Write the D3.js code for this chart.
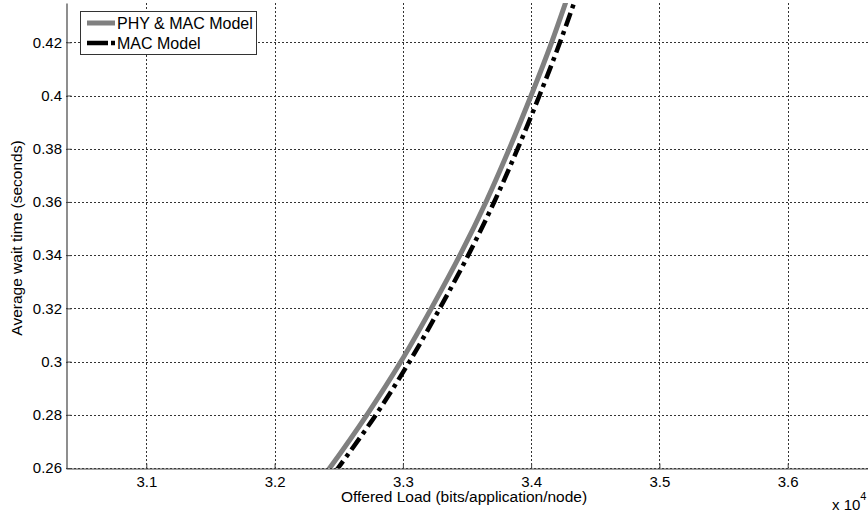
<!DOCTYPE html>
<html>
<head>
<meta charset="utf-8">
<script src="https://cdn.jsdelivr.net/npm/d3@7"></script>
<style>
  html, body { margin: 0; padding: 0; background: #fff; }
  svg { display: block; font-family: "Liberation Sans", Arial, sans-serif; }
</style>
</head>
<body>
<svg id="chart" width="868" height="515"></svg>
<script>
// ---- data ----
const seriesNames = ["PHY & MAC Model", "MAC Model"];
const phyMacWait = [0.25, 0.26, 0.28, 0.30, 0.32, 0.34, 0.36, 0.38, 0.40, 0.42, 0.44];
const phyMacLoad = [32275, 32430, 32720, 32985, 33222, 33445, 33648, 33830, 34000, 34160, 34305];
const macWait    = [0.25, 0.26, 0.28, 0.30, 0.32, 0.34, 0.36, 0.38, 0.40, 0.42, 0.44];
const macLoad    = [32340, 32495, 32790, 33052, 33288, 33510, 33712, 33895, 34065, 34225, 34372];
const xTicks = [31000, 32000, 33000, 34000, 35000, 36000];
const xTickLabels = ["3.1", "3.2", "3.3", "3.4", "3.5", "3.6"];
const yTicks = [0.26, 0.28, 0.30, 0.32, 0.34, 0.36, 0.38, 0.40, 0.42];
const yTickLabels = ["0.26", "0.28", "0.3", "0.32", "0.34", "0.36", "0.38", "0.4", "0.42"];

// ---- layout ----
const pL = 66, pR = 868, pT = 3, pB = 468;
const svg = d3.select("#chart");
const x = d3.scaleLinear().domain([30374, 36626]).range([pL, pR]);
const y = d3.scaleLinear().domain([0.26, 0.43477]).range([pB, pT]);

svg.append("defs").append("clipPath").attr("id", "clip")
  .append("rect").attr("x", pL).attr("y", pT).attr("width", pR - pL).attr("height", pB - pT);

// grid
const grid = svg.append("g");
grid.selectAll("line.gx").data(xTicks).join("line")
  .attr("x1", d => Math.round(x(d)) + 0.5).attr("x2", d => Math.round(x(d)) + 0.5)
  .attr("y1", pT).attr("y2", pB)
  .attr("stroke", "#333").attr("stroke-width", 1).attr("stroke-dasharray", "2,2");
grid.selectAll("line.gy").data(yTicks).join("line")
  .attr("y1", d => Math.round(y(d)) + 0.5).attr("y2", d => Math.round(y(d)) + 0.5)
  .attr("x1", pL).attr("x2", pR)
  .attr("stroke", "#333").attr("stroke-width", 1).attr("stroke-dasharray", "2,2");

// axes
const xAxis = d3.axisBottom(x).tickValues(xTicks).tickFormat((d, i) => xTickLabels[i]).tickSizeInner(-5).tickSizeOuter(0).tickPadding(7.5);
const yAxis = d3.axisLeft(y).tickValues(yTicks).tickFormat((d, i) => yTickLabels[i]).tickSizeInner(-5).tickSizeOuter(0).tickPadding(4.5);

const gx = svg.append("g").attr("transform", `translate(0,${pB + 0.5})`).call(xAxis);
const gy = svg.append("g").attr("transform", `translate(${pL + 0.5},0)`).call(yAxis);
[gx, gy].forEach(g => {
  g.select(".domain").attr("stroke", "#444").attr("stroke-width", 1.2);
  g.selectAll(".tick line").attr("stroke", "#444");
  g.selectAll(".tick text").attr("fill", "#000").style("font-size", "15px").style("font-family", "Liberation Sans, Arial, sans-serif");
});

// lines
const plot = svg.append("g").attr("clip-path", "url(#clip)");
const line = d3.line().x(d => x(d[0])).y(d => y(d[1])).curve(d3.curveCatmullRom);
plot.append("path")
  .datum(phyMacLoad.map((v, i) => [v, phyMacWait[i]]))
  .attr("d", line).attr("fill", "none").attr("stroke", "#808080").attr("stroke-width", 5);
plot.append("path")
  .datum(macLoad.map((v, i) => [v, macWait[i]]))
  .attr("d", line).attr("fill", "none").attr("stroke", "#000").attr("stroke-width", 4.5)
  .attr("stroke-dasharray", "14,5,4,5");

// labels
svg.append("text").attr("x", 464).attr("y", 502)
  .attr("text-anchor", "middle").style("font-size", "15.5px").text("Offered Load (bits/application/node)");
svg.append("text").attr("transform", "translate(22,238) rotate(-90)")
  .attr("text-anchor", "middle").style("font-size", "15.5px").text("Average wait time (seconds)");
const mult = svg.append("text").attr("x", 832).attr("y", 510).style("font-size", "15px");
mult.append("tspan").text("x 10");
mult.append("tspan").attr("dy", -10).style("font-size", "11px").text("4");

// legend
const lg = svg.append("g");
lg.append("rect").attr("x", 80.5).attr("y", 11.5).attr("width", 176).attr("height", 43)
  .attr("fill", "#fff").attr("stroke", "#333").attr("stroke-width", 1);
const legendStyles = [
  {stroke: "#808080", width: 5, dash: null},
  {stroke: "#000", width: 4.5, dash: "21,3,4,0"}
];
seriesNames.forEach((name, i) => {
  const yy = 23 + i * 20;
  lg.append("line").attr("x1", 87).attr("x2", 115).attr("y1", yy).attr("y2", yy)
    .attr("stroke", legendStyles[i].stroke).attr("stroke-width", legendStyles[i].width)
    .attr("stroke-dasharray", legendStyles[i].dash);
  lg.append("text").attr("x", 117).attr("y", yy + 5.5).style("font-size", "16px").text(name);
});
</script>
</body>
</html>
